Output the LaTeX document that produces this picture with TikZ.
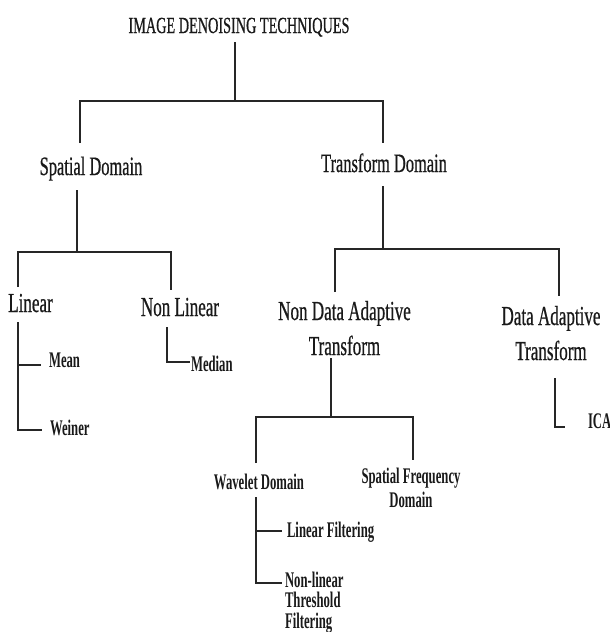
\documentclass[tikz,border=0pt]{standalone}
\usepackage{fontspec}
\setmainfont{Liberation Serif}[FakeStretch=0.62]
\newfontfamily\heavyser{Liberation Serif}[FakeStretch=0.62,FakeBold=0.6]
\newfontfamily\leafser{Liberation Serif Bold}[FakeStretch=0.57]
\begin{document}
\begin{tikzpicture}[x=1pt,y=-1pt,
  every node/.style={inner sep=0pt, outer sep=0pt, text=black!90},
  ttl/.style={anchor=base, font=\heavyser\fontsize{23}{28}\selectfont},
  lvtwo/.style={anchor=base, font=\heavyser\fontsize{26.5}{34}\selectfont},
  lvthree/.style={anchor=base, align=center, font=\heavyser\fontsize{27.5}{35}\selectfont},
  leaf/.style={anchor=base west, align=left, font=\leafser\fontsize{22.3}{20.5}\selectfont},
  leafc/.style={anchor=base, align=center, font=\leafser\fontsize{22.3}{24}\selectfont},
  conn/.style={line width=1.4pt, draw=black!85}]
\useasboundingbox (0,0) rectangle (610,632);
% labels (anchor base = baseline of the last line)
\node[ttl] (title) at (239,33) {IMAGE DENOISING TECHNIQUES};
\node[lvtwo] (spatial) at (91,175) {Spatial Domain};
\node[lvtwo] (transform) at (384,172) {Transform Domain};
\node[lvthree] (linear) at (30.5,312) {Linear};
\node[lvthree] (nonlinear) at (180,316) {Non Linear};
\node[lvthree] (ndat) at (344.5,355) {Non Data Adaptive\\Transform};
\node[lvthree] (dat) at (551,360) {Data Adaptive\\Transform};
\node[leaf] (mean) at (49,367) {Mean};
\node[leaf] (weiner) at (50,435) {Weiner};
\node[leaf] (median) at (191,371) {Median};
\node[leaf] (ica) at (588,428) {ICA};
\node[leafc] (wavelet) at (259,489) {Wavelet Domain};
\node[leafc] (sfd) at (411,507) {Spatial Frequency\\Domain};
\node[leaf] (linf) at (287,537) {Linear Filtering};
\node[leaf] (nltf) at (285,628) {Non-linear\\Threshold\\Filtering};
% junction coordinates
\coordinate (t0) at (235,42);
\coordinate (t1) at (235,101);
\coordinate (tl) at (80,101);
\coordinate (tr) at (383,101);
\coordinate (tle) at (80,143);
\coordinate (tre) at (383,143);
\coordinate (s0) at (77,190);
\coordinate (s1) at (77,252);
\coordinate (sl) at (18,252);
\coordinate (sr) at (171,252);
\coordinate (sle) at (18,287);
\coordinate (sre) at (171,290);
\coordinate (l0) at (18,322);
\coordinate (l1) at (18,365);
\coordinate (l1e) at (41,365);
\coordinate (l2) at (18,430);
\coordinate (l2e) at (42,430);
\coordinate (n0) at (167,327);
\coordinate (n1) at (167,362);
\coordinate (n1e) at (190,362);
\coordinate (r0) at (383,186);
\coordinate (r1) at (383,249);
\coordinate (rl) at (335,249);
\coordinate (rr) at (559,249);
\coordinate (rle) at (335,292);
\coordinate (rre) at (559,296);
\coordinate (d0) at (331,358);
\coordinate (d1) at (331,417);
\coordinate (dl) at (256,417);
\coordinate (dr) at (413,417);
\coordinate (dle) at (256,463);
\coordinate (dre) at (413,460);
\coordinate (a0) at (555,378);
\coordinate (a1) at (555,427);
\coordinate (a1e) at (565,427);
\coordinate (w0) at (256,497);
\coordinate (w1) at (256,531);
\coordinate (w1e) at (282,531);
\coordinate (w2) at (256,583);
\coordinate (w2e) at (282,583);
% connectors
\draw[conn] (t0) -- (t1);
\draw[conn] (tle) -- (tl) -- (tr) -- (tre);
\draw[conn] (s0) -- (s1);
\draw[conn] (sle) -- (sl) -- (sr) -- (sre);
\draw[conn] (l0) -- (l2) -- (l2e);
\draw[conn] (l1) -- (l1e);
\draw[conn] (n0) -- (n1) -- (n1e);
\draw[conn] (r0) -- (r1);
\draw[conn] (rle) -- (rl) -- (rr) -- (rre);
\draw[conn] (d0) -- (d1);
\draw[conn] (dle) -- (dl) -- (dr) -- (dre);
\draw[conn] (a0) -- (a1) -- (a1e);
\draw[conn] (w0) -- (w2) -- (w2e);
\draw[conn] (w1) -- (w1e);
\end{tikzpicture}
\end{document}
